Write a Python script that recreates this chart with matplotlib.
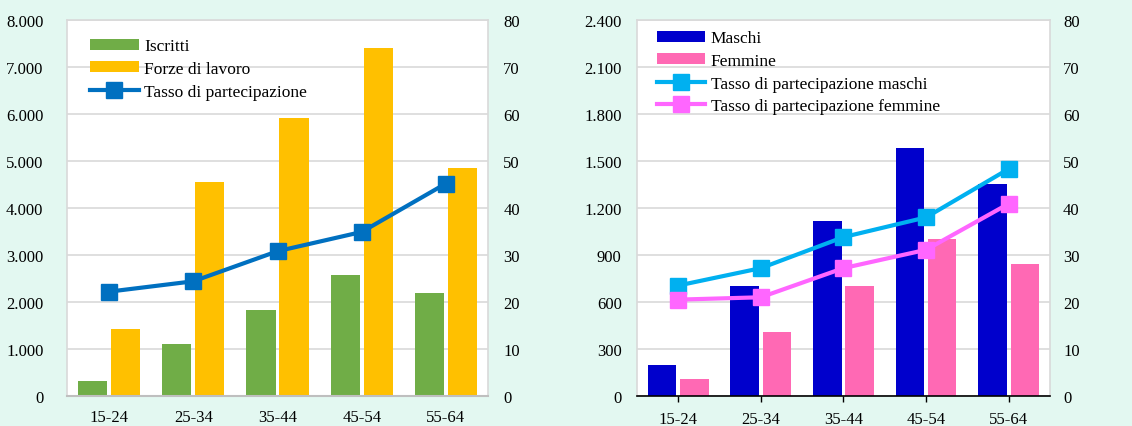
import numpy as np
import matplotlib
matplotlib.use('Agg')
import matplotlib.pyplot as plt
from matplotlib.ticker import FuncFormatter

plt.rcParams.update({
    'font.family': 'Liberation Serif', 'font.size': 12,
})

# ---------- data ----------
classi = ['15-24', '25-34', '35-44', '45-54', '55-64']
iscritti = [310, 1100, 1820, 2580, 2200]
forze_lavoro = [1430, 4560, 5920, 7410, 4850]
tasso = [22.2, 24.4, 30.8, 34.9, 45.2]

maschi = [200, 700, 1120, 1580, 1350]
femmine = [110, 410, 700, 1000, 840]
tasso_m = [23.5, 27.2, 33.8, 38.0, 48.3]
tasso_f = [20.5, 21.0, 27.2, 31.1, 40.9]

BG = '#E3F8F1'; GRID = '#D9D9D9'
thou = FuncFormatter(lambda v, p: f'{int(v):,}'.replace(',', '.'))

fig = plt.figure(figsize=(11.32, 4.27), dpi=100, facecolor=BG)
x = np.arange(len(classi))
w = 0.345; off = 0.196
LEG = dict(loc='upper left', frameon=False, fontsize=12.5, handlelength=2.8,
           handleheight=0.6, labelspacing=0.38, handletextpad=0.3,
           borderpad=0, borderaxespad=0)


def base(ax, ymax, step, black_bottom, ypad):
    ax.set_xlim(-0.5, 4.5)
    ax.set_ylim(0, ymax)
    ax.set_yticks(np.arange(0, ymax + 1, step))
    ax.yaxis.set_major_formatter(thou)
    ax.grid(axis='y', color=GRID, lw=1.2)
    ax.set_axisbelow(True)
    for s in ['top', 'left', 'right']:
        ax.spines[s].set_color(GRID)
        ax.spines[s].set_linewidth(1.2)
    if black_bottom:
        ax.spines['bottom'].set_color('black')
        ax.spines['bottom'].set_linewidth(1.2)
        ax.tick_params(axis='x', length=4, width=1, direction='out', color='black')
    else:
        ax.spines['bottom'].set_color('#BFBFBF')
        ax.spines['bottom'].set_linewidth(1.5)
        ax.tick_params(axis='x', length=0)
    ax.set_xticks(x)
    ax.set_xticklabels(classi)
    ax.tick_params(axis='x', pad=9.5 if not black_bottom else 6.5, labelsize=12)
    ax.tick_params(axis='y', length=0, labelsize=12, pad=ypad)


def right(ax, pad):
    ax2 = ax.twinx()
    ax2.set_ylim(0, 80)
    ax2.set_yticks(np.arange(0, 81, 10))
    ax2.tick_params(axis='y', length=0, pad=pad, labelsize=12)
    for s in ax2.spines.values():
        s.set_visible(False)
    return ax2


# ---------- left panel ----------
ax = fig.add_axes([0.0592, 0.0703, 0.3719, 0.8806])
base(ax, 8000, 1000, False, 17)
ax.bar(x - off, iscritti, w, color='#70AD47', label='Iscritti')
ax.bar(x + off, forze_lavoro, w, color='#FFC000', label='Forze di lavoro')
ax2 = right(ax, 11)
ax2.plot(x, tasso, color='#0070C0', lw=3, marker='s', ms=11,
         label='Tasso di partecipazione')
h1, l1 = ax.get_legend_handles_labels()
h2, l2 = ax2.get_legend_handles_labels()
ax2.legend(h1 + h2, l1 + l2, bbox_to_anchor=(0.055, 0.951), **LEG)

# ---------- right panel ----------
ax = fig.add_axes([0.5627, 0.0703, 0.3648, 0.8806])
base(ax, 2400, 300, True, 11)
ax.bar(x - off, maschi, w, color='#0000CC', label='Maschi')
ax.bar(x + off, femmine, w, color='#FF69B4', label='Femmine')
ax2 = right(ax, 9.5)
ax2.plot(x, tasso_m, color='#00B0F0', lw=3, marker='s', ms=11,
         label='Tasso di partecipazione maschi')
ax2.plot(x, tasso_f, color='#FF66FF', lw=3, marker='s', ms=11,
         label='Tasso di partecipazione femmine')
h1, l1 = ax.get_legend_handles_labels()
h2, l2 = ax2.get_legend_handles_labels()
ax2.legend(h1 + h2, l1 + l2, bbox_to_anchor=(0.048, 0.972), **LEG)

fig.savefig('out.png', dpi=100, facecolor=BG)
